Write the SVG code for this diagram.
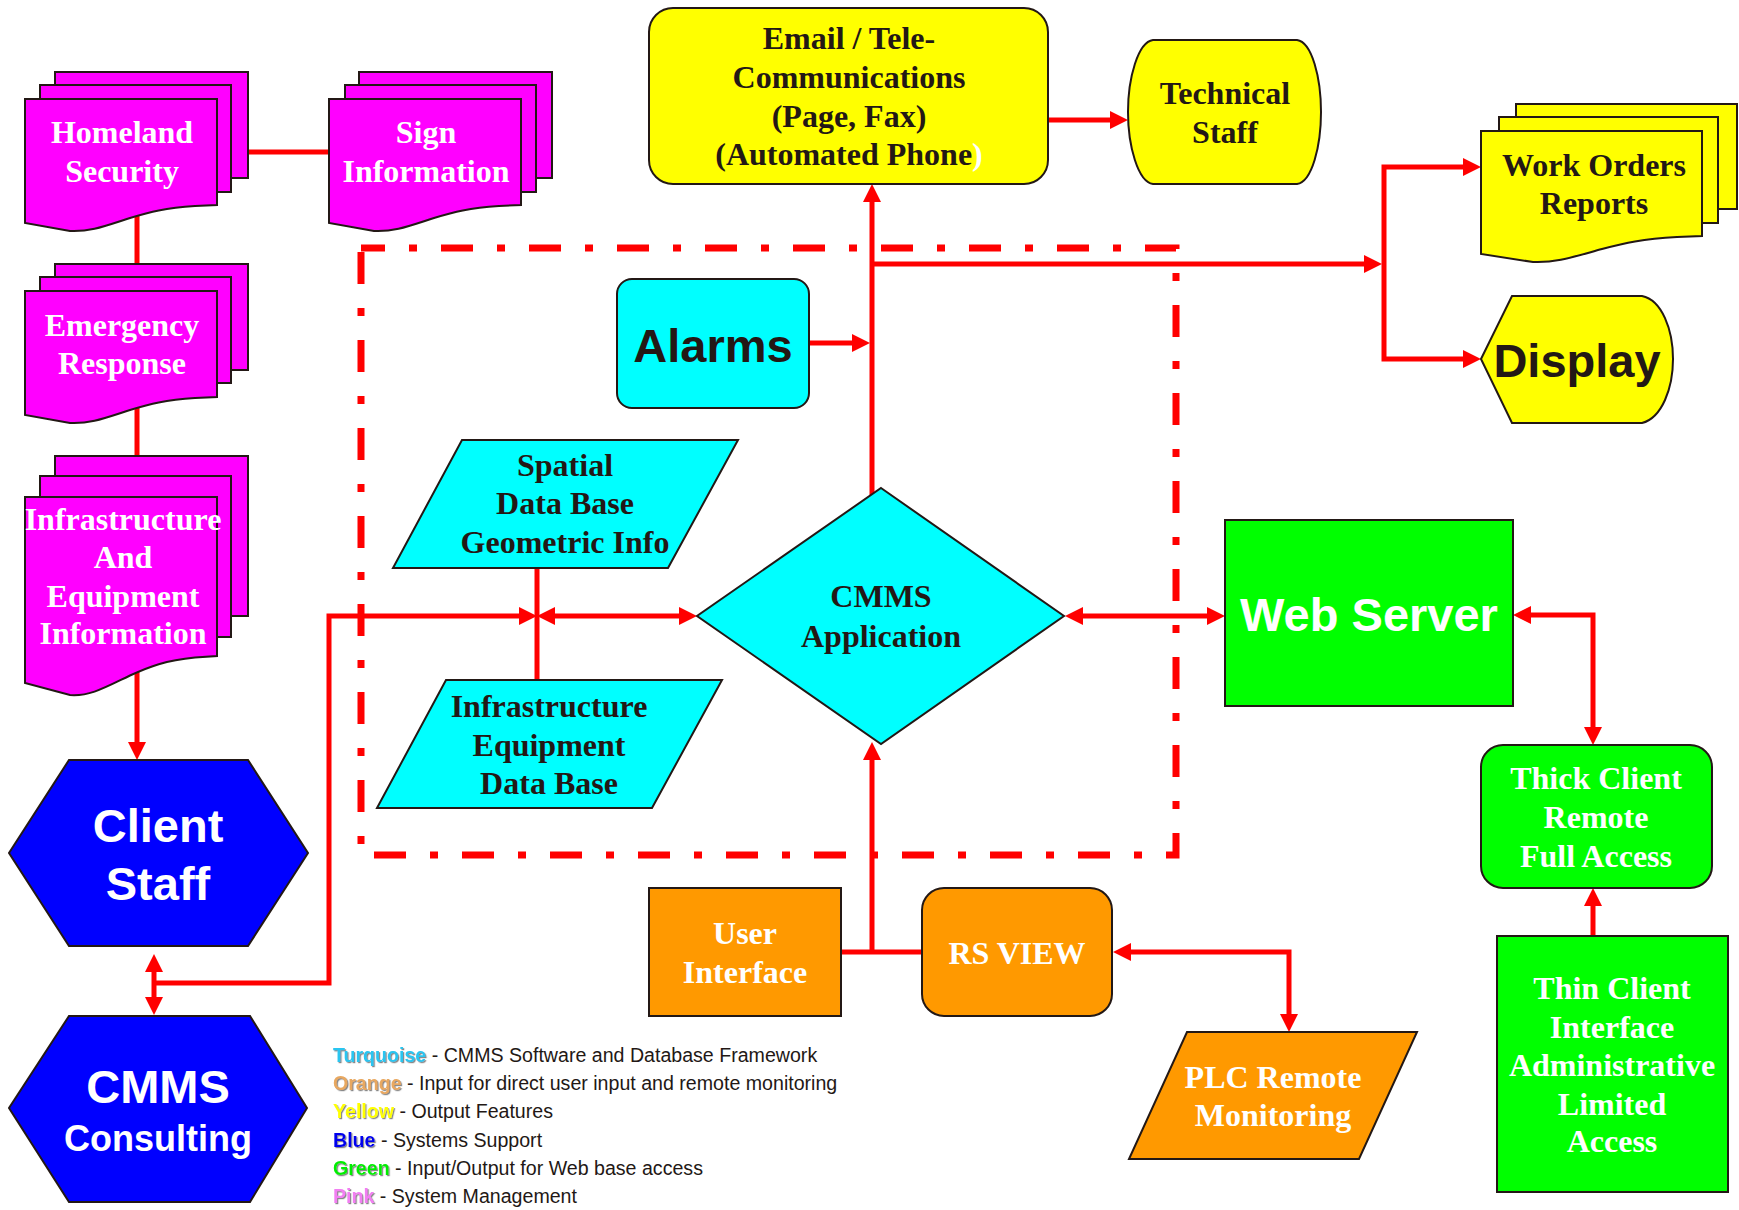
<svg xmlns="http://www.w3.org/2000/svg" width="1739" height="1210" viewBox="0 0 1739 1210">
<style>
.ln{fill:none;stroke:#ff0000;stroke-width:5;stroke-linejoin:miter}
.ar{marker-end:url(#ah)}
.ar2{marker-start:url(#ah);marker-end:url(#ah)}
.ol{stroke:#231815;stroke-width:2}
.mag{fill:#ff00ff}
.cy{fill:#00ffff}
.yel{fill:#ffff00}
.grn{fill:#00ff00}
.blu{fill:#0000ff}
.org{fill:#ff9900}
.tr{font-family:"Liberation Serif","Times New Roman",serif;font-weight:bold;font-size:32px;text-anchor:middle}
.ts{font-family:"Liberation Sans",Arial,sans-serif;font-weight:bold;font-size:47px;text-anchor:middle}
.w{fill:#ffffff}
.d{fill:#231815}
.lg{font-family:"Liberation Sans",Arial,sans-serif;font-size:19.6px;fill:#231815}
.sh{filter:url(#shadow);font-weight:bold}
</style>
<defs>
<marker id="ah" viewBox="0 0 18 18" markerWidth="18" markerHeight="18" refX="10" refY="9" orient="auto-start-reverse" markerUnits="userSpaceOnUse"><path d="M0,0 L18,9 L0,18 Z" fill="#ff0000"/></marker>
<filter id="shadow" x="-10%" y="-20%" width="130%" height="150%"><feDropShadow dx="1.2" dy="1.2" stdDeviation="0.6" flood-color="#888888"/></filter>
</defs>
<rect width="1739" height="1210" fill="#ffffff"/>

<g id="boundary">
<rect x="361" y="248" width="815" height="607" fill="none" stroke="#ff0000" stroke-width="7" stroke-dasharray="32 24 8 24" stroke-dashoffset="8"/>
</g>

<g id="connectors">
<path class="ln" d="M248,152 H329"/>
<path class="ln" d="M137,210 V264"/>
<path class="ln" d="M137,405 V457"/>
<path class="ln ar" d="M137,670 V752"/>
<path class="ln ar2" d="M154,962 V1007"/>
<path class="ln ar" d="M154,983 H329 V616 H529"/>
<path class="ln" d="M537,565 V680"/>
<path class="ln ar2" d="M545,616 H689"/>
<path class="ln ar" d="M872,495 V192"/>
<path class="ln ar" d="M809,343 H862"/>
<path class="ln ar" d="M872,264 H1374"/>
<path class="ln ar2" d="M1473,167 H1384 V359 H1473"/>
<path class="ln ar" d="M1048,120 H1120"/>
<path class="ln ar2" d="M1073,616 H1217"/>
<path class="ln ar2" d="M1521,615 H1593 V737"/>
<path class="ln ar" d="M1593,936 V896"/>
<path class="ln" d="M841,952 H922"/>
<path class="ln ar" d="M872,952 V750"/>
<path class="ln ar2" d="M1121,952 H1289 V1024"/>
</g>

<g id="homeland-security">
<rect class="mag ol" x="55" y="72" width="193" height="106"/>
<rect class="mag ol" x="40" y="85" width="191" height="107"/>
<path class="mag ol" d="M25,99 H217 V205 L195,206 C165,208 150,212 130,218 C105,226 90,232 70,231 L25,223 Z"/>
<text class="tr w"><tspan x="122" y="143">Homeland</tspan><tspan x="122" y="182">Security</tspan></text>
</g>

<g id="sign-information">
<rect class="mag ol" x="359" y="72" width="193" height="106"/>
<rect class="mag ol" x="345" y="85" width="191" height="107"/>
<path class="mag ol" d="M329,99 H521 V205 L499,206 C469,208 454,212 434,218 C409,226 394,232 374,231 L329,223 Z"/>
<text class="tr w"><tspan x="426" y="143">Sign</tspan><tspan x="426" y="182">Information</tspan></text>
</g>

<g id="emergency-response">
<rect class="mag ol" x="55" y="264" width="193" height="106"/>
<rect class="mag ol" x="40" y="277" width="191" height="106"/>
<path class="mag ol" d="M25,291 H217 V397 L195,398 C165,400 150,404 130,410 C105,418 90,424 70,423 L25,415 Z"/>
<text class="tr w"><tspan x="122" y="336">Emergency</tspan><tspan x="122" y="374">Response</tspan></text>
</g>

<g id="infrastructure-equipment-information">
<rect class="mag ol" x="55" y="456" width="193" height="160"/>
<rect class="mag ol" x="40" y="476" width="191" height="161"/>
<path class="mag ol" d="M25,497 H217 V656 L195,657.5 C165,660.5 150,666.5 130,675.5 C105,687.5 90,696.5 70,695 L25,683 Z"/>
<text class="tr w"><tspan x="123" y="530">Infrastructure</tspan><tspan x="123" y="568">And</tspan><tspan x="123" y="607">Equipment</tspan><tspan x="123" y="644">Information</tspan></text>
</g>

<g id="client-staff">
<polygon class="blu ol" points="69,760 248,760 308,853 248,946 69,946 9,853"/>
<text class="ts w"><tspan x="158" y="842">Client</tspan><tspan x="158" y="900">Staff</tspan></text>
</g>

<g id="cmms-consulting">
<polygon class="blu ol" points="69,1016 250,1016 307,1108 250,1202 69,1202 9,1108"/>
<text class="ts w"><tspan x="158" y="1103">CMMS</tspan><tspan x="158" y="1151" font-size="36">Consulting</tspan></text>
</g>

<g id="email-telecommunications">
<rect class="yel ol" x="649" y="8" width="399" height="176" rx="24"/>
<text class="tr d"><tspan x="849" y="49">Email / Tele-</tspan><tspan x="849" y="88">Communications</tspan><tspan x="849" y="127">(Page, Fax)</tspan><tspan x="849" y="165">(Automated Phone<tspan fill="#ffffff">)</tspan></tspan></text>
</g>

<g id="technical-staff">
<path class="yel ol" d="M1153,40 H1297 C1312,42 1321,78 1321,112 C1321,146 1312,182 1297,184 H1153 C1138,182 1128,146 1128,112 C1128,78 1138,42 1153,40 Z"/>
<text class="tr d"><tspan x="1225" y="104">Technical</tspan><tspan x="1225" y="143">Staff</tspan></text>
</g>

<g id="work-orders-reports">
<rect class="yel ol" x="1516" y="104" width="221" height="105"/>
<rect class="yel ol" x="1499" y="117" width="219" height="106"/>
<path class="yel ol" d="M1481,131 H1702 V236 L1677,237 C1642,239 1625,243 1602,249 C1573,257 1556,263 1533,262 L1481,254 Z"/>
<text class="tr d"><tspan x="1594" y="176">Work Orders</tspan><tspan x="1594" y="214">Reports</tspan></text>
</g>

<g id="display">
<path class="yel ol" d="M1481,359 L1512,296 H1642 C1662,300 1673,330 1673,359 C1673,388 1662,418 1642,423 H1512 Z"/>
<text class="ts d" x="1577" y="377">Display</text>
</g>

<g id="alarms">
<rect class="cy ol" x="617" y="279" width="192" height="129" rx="15"/>
<text class="ts d" x="713" y="362">Alarms</text>
</g>

<g id="spatial-data-base">
<polygon class="cy ol" points="462,440 738,440 668,568 393,568"/>
<text class="tr d"><tspan x="565" y="476">Spatial</tspan><tspan x="565" y="514">Data Base</tspan><tspan x="565" y="553">Geometric Info</tspan></text>
</g>

<g id="infrastructure-equipment-data-base">
<polygon class="cy ol" points="446,680 722,680 652,808 377,808"/>
<text class="tr d"><tspan x="549" y="717">Infrastructure</tspan><tspan x="549" y="756">Equipment</tspan><tspan x="549" y="794">Data Base</tspan></text>
</g>

<g id="cmms-application">
<polygon class="cy ol" points="881,488 1064,616 881,744 697,616"/>
<text class="tr d"><tspan x="881" y="607">CMMS</tspan><tspan x="881" y="647">Application</tspan></text>
</g>

<g id="web-server">
<rect class="grn ol" x="1225" y="520" width="288" height="186"/>
<text class="ts w" x="1369" y="631">Web Server</text>
</g>

<g id="thick-client">
<rect class="grn ol" x="1481" y="745" width="231" height="143" rx="22"/>
<text class="tr w"><tspan x="1596" y="789">Thick Client</tspan><tspan x="1596" y="828">Remote</tspan><tspan x="1596" y="867">Full Access</tspan></text>
</g>

<g id="thin-client">
<rect class="grn ol" x="1497" y="936" width="231" height="256"/>
<text class="tr w"><tspan x="1612" y="999">Thin Client</tspan><tspan x="1612" y="1038">Interface</tspan><tspan x="1612" y="1076">Administrative</tspan><tspan x="1612" y="1115">Limited</tspan><tspan x="1612" y="1152">Access</tspan></text>
</g>

<g id="user-interface">
<rect class="org ol" x="649" y="888" width="192" height="128"/>
<text class="tr w"><tspan x="745" y="944">User</tspan><tspan x="745" y="983">Interface</tspan></text>
</g>

<g id="rs-view">
<rect class="org ol" x="922" y="888" width="190" height="128" rx="22"/>
<text class="tr w" x="1017" y="964">RS VIEW</text>
</g>

<g id="plc-remote-monitoring">
<polygon class="org ol" points="1187,1032 1417,1032 1359,1159 1129,1159"/>
<text class="tr w"><tspan x="1273" y="1088">PLC Remote</tspan><tspan x="1273" y="1126">Monitoring</tspan></text>
</g>

<g id="legend">
<text class="lg" x="333" y="1062"><tspan class="sh" fill="#29c5f0">Turquoise</tspan> - CMMS Software and Database Framework</text>
<text class="lg" x="333" y="1090"><tspan class="sh" fill="#e8a860">Orange</tspan> - Input for direct user input and remote monitoring</text>
<text class="lg" x="333" y="1118"><tspan class="sh" fill="#ffff00">Yellow</tspan> - Output Features</text>
<text class="lg" x="333" y="1147"><tspan class="sh" fill="#0000ee">Blue</tspan> - Systems Support</text>
<text class="lg" x="333" y="1175"><tspan class="sh" fill="#00ee00">Green</tspan> - Input/Output for Web base access</text>
<text class="lg" x="333" y="1203"><tspan class="sh" fill="#f27ff2">Pink</tspan> - System Management</text>
</g>
</svg>
